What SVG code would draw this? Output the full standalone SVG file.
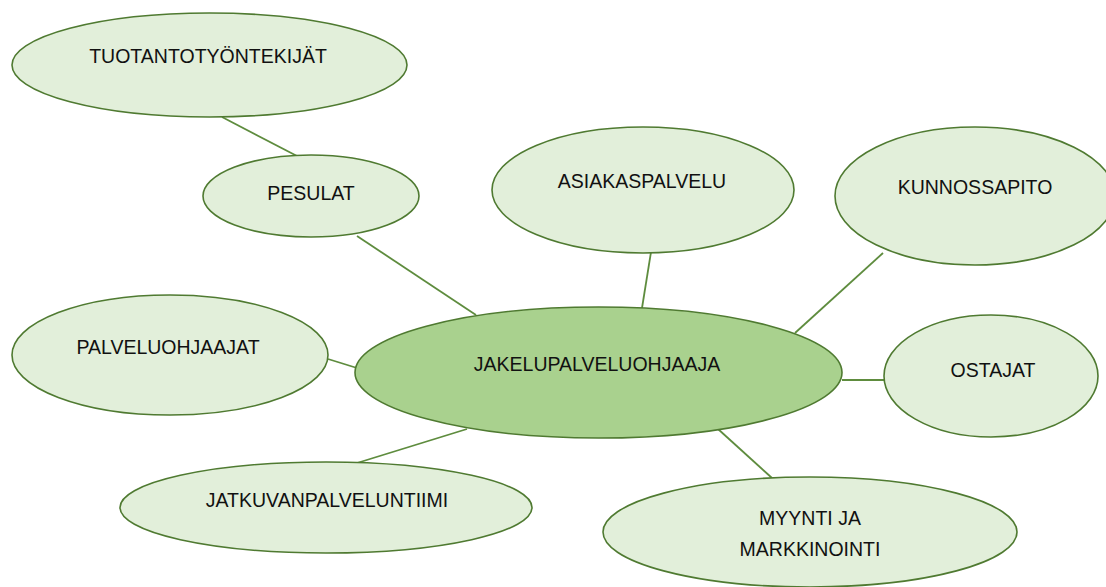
<svg xmlns="http://www.w3.org/2000/svg" width="1106" height="587" viewBox="0 0 1106 587">
<style>
.n{fill:#E2EFDA;stroke:#4F7A31;stroke-width:1.6}
.c{fill:#A9D18E;stroke:#4F7A31;stroke-width:1.6}
.t{font-family:"Liberation Sans",Arial,sans-serif;font-size:19.5px;fill:#111;text-anchor:middle}
#connectors line{stroke:#5E8C3E;stroke-width:1.8}
</style>
<rect width="1106" height="587" fill="#fff"/>
<g id="connectors">
<line x1="222" y1="117" x2="297" y2="156"/>
<line x1="357" y1="236" x2="476" y2="315"/>
<line x1="651" y1="252" x2="642" y2="308"/>
<line x1="883" y1="253" x2="795" y2="333"/>
<line x1="328" y1="359" x2="357" y2="368"/>
<line x1="842" y1="380" x2="884" y2="380"/>
<line x1="467" y1="429" x2="357" y2="463"/>
<line x1="718" y1="429" x2="772" y2="478"/>
</g>
<g id="tuotantotyontekijat">
<ellipse class="n" cx="209.5" cy="65" rx="197.5" ry="52"/>
<text class="t" x="208" y="63">TUOTANTOTYÖNTEKIJÄT</text>
</g>
<g id="pesulat">
<ellipse class="n" cx="311" cy="196" rx="108" ry="41"/>
<text class="t" x="311" y="200">PESULAT</text>
</g>
<g id="asiakaspalvelu">
<ellipse class="n" cx="643" cy="190" rx="151" ry="63"/>
<text class="t" x="642" y="188">ASIAKASPALVELU</text>
</g>
<g id="kunnossapito">
<ellipse class="n" cx="975" cy="196" rx="140" ry="69"/>
<text class="t" x="975" y="194">KUNNOSSAPITO</text>
</g>
<g id="palveluohjaajat">
<ellipse class="n" cx="170" cy="355" rx="158" ry="60"/>
<text class="t" x="168" y="354">PALVELUOHJAAJAT</text>
</g>
<g id="jakelupalveluohjaaja">
<ellipse class="c" cx="598.5" cy="372.5" rx="243.5" ry="65.5"/>
<text class="t" x="597" y="371">JAKELUPALVELUOHJAAJA</text>
</g>
<g id="ostajat">
<ellipse class="n" cx="991" cy="376" rx="107" ry="61"/>
<text class="t" x="993" y="377">OSTAJAT</text>
</g>
<g id="jatkuvanpalveluntiimi">
<ellipse class="n" cx="326" cy="507.5" rx="206" ry="45.5"/>
<text class="t" x="327" y="507">JATKUVANPALVELUNTIIMI</text>
</g>
<g id="myynti-ja-markkinointi">
<ellipse class="n" cx="810" cy="532" rx="207" ry="55"/>
<text class="t" x="810" y="525">MYYNTI JA</text>
<text class="t" x="810" y="556">MARKKINOINTI</text>
</g>
</svg>
